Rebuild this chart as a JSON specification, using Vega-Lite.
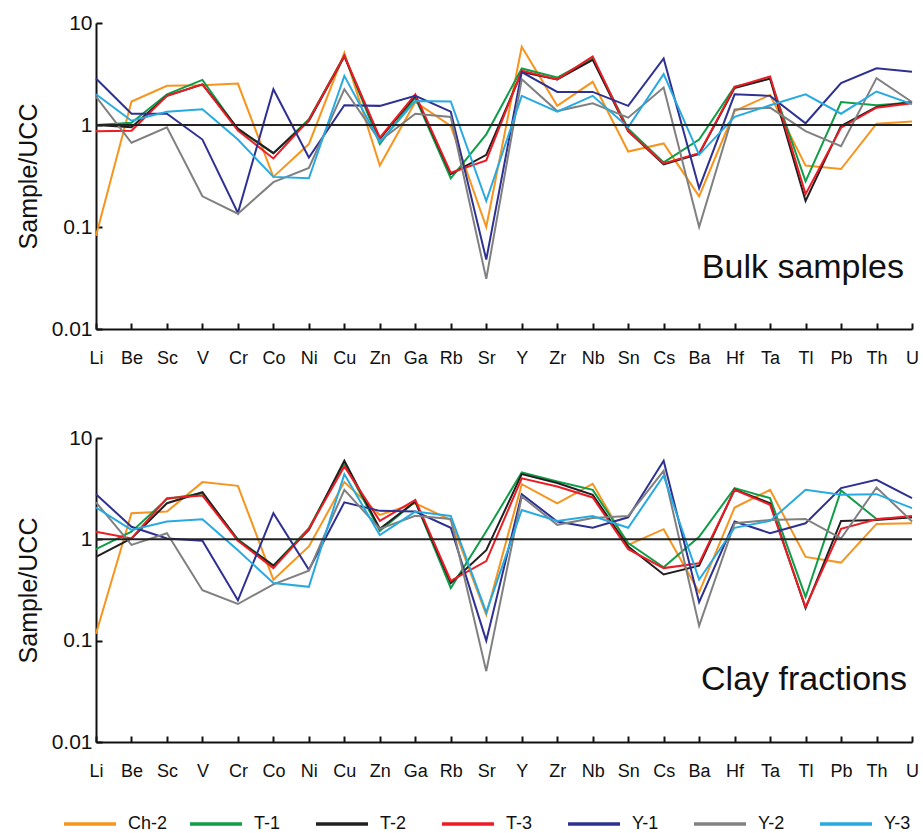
{
  "$schema": "https://vega.github.io/schema/vega-lite/v6.json",
  "padding": {"left": 16, "top": 12, "right": 5, "bottom": 5},
  "background": "white",
  "datasets": {
    "bulk": [
      {"element":"Li","sample":"Ch-2","value":0.082},{"element":"Li","sample":"T-1","value":1.0},{"element":"Li","sample":"T-2","value":1.0},{"element":"Li","sample":"T-3","value":0.87},{"element":"Li","sample":"Y-1","value":2.86},{"element":"Li","sample":"Y-2","value":1.9},{"element":"Li","sample":"Y-3","value":2.0},
      {"element":"Be","sample":"Ch-2","value":1.7},{"element":"Be","sample":"T-1","value":1.05},{"element":"Be","sample":"T-2","value":0.95},{"element":"Be","sample":"T-3","value":0.88},{"element":"Be","sample":"Y-1","value":1.29},{"element":"Be","sample":"Y-2","value":0.67},{"element":"Be","sample":"Y-3","value":1.1},
      {"element":"Sc","sample":"Ch-2","value":2.42},{"element":"Sc","sample":"T-1","value":2.0},{"element":"Sc","sample":"T-2","value":1.93},{"element":"Sc","sample":"T-3","value":1.93},{"element":"Sc","sample":"Y-1","value":1.29},{"element":"Sc","sample":"Y-2","value":0.95},{"element":"Sc","sample":"Y-3","value":1.35},
      {"element":"V","sample":"Ch-2","value":2.45},{"element":"V","sample":"T-1","value":2.77},{"element":"V","sample":"T-2","value":2.5},{"element":"V","sample":"T-3","value":2.5},{"element":"V","sample":"Y-1","value":0.72},{"element":"V","sample":"Y-2","value":0.2},{"element":"V","sample":"Y-3","value":1.43},
      {"element":"Cr","sample":"Ch-2","value":2.55},{"element":"Cr","sample":"T-1","value":0.9},{"element":"Cr","sample":"T-2","value":0.92},{"element":"Cr","sample":"T-3","value":0.88},{"element":"Cr","sample":"Y-1","value":0.137},{"element":"Cr","sample":"Y-2","value":0.135},{"element":"Cr","sample":"Y-3","value":0.72},
      {"element":"Co","sample":"Ch-2","value":0.31},{"element":"Co","sample":"T-1","value":0.53},{"element":"Co","sample":"T-2","value":0.53},{"element":"Co","sample":"T-3","value":0.47},{"element":"Co","sample":"Y-1","value":2.24},{"element":"Co","sample":"Y-2","value":0.275},{"element":"Co","sample":"Y-3","value":0.31},
      {"element":"Ni","sample":"Ch-2","value":0.65},{"element":"Ni","sample":"T-1","value":1.14},{"element":"Ni","sample":"T-2","value":1.1},{"element":"Ni","sample":"T-3","value":1.12},{"element":"Ni","sample":"Y-1","value":0.48},{"element":"Ni","sample":"Y-2","value":0.38},{"element":"Ni","sample":"Y-3","value":0.3},
      {"element":"Cu","sample":"Ch-2","value":5.1},{"element":"Cu","sample":"T-1","value":4.8},{"element":"Cu","sample":"T-2","value":4.7},{"element":"Cu","sample":"T-3","value":4.76},{"element":"Cu","sample":"Y-1","value":1.56},{"element":"Cu","sample":"Y-2","value":2.24},{"element":"Cu","sample":"Y-3","value":3.03},
      {"element":"Zn","sample":"Ch-2","value":0.4},{"element":"Zn","sample":"T-1","value":0.65},{"element":"Zn","sample":"T-2","value":0.73},{"element":"Zn","sample":"T-3","value":0.75},{"element":"Zn","sample":"Y-1","value":1.54},{"element":"Zn","sample":"Y-2","value":0.7},{"element":"Zn","sample":"Y-3","value":0.68},
      {"element":"Ga","sample":"Ch-2","value":1.68},{"element":"Ga","sample":"T-1","value":1.86},{"element":"Ga","sample":"T-2","value":1.93},{"element":"Ga","sample":"T-3","value":2.0},{"element":"Ga","sample":"Y-1","value":1.93},{"element":"Ga","sample":"Y-2","value":1.29},{"element":"Ga","sample":"Y-3","value":1.72},
      {"element":"Rb","sample":"Ch-2","value":0.98},{"element":"Rb","sample":"T-1","value":0.3},{"element":"Rb","sample":"T-2","value":0.33},{"element":"Rb","sample":"T-3","value":0.34},{"element":"Rb","sample":"Y-1","value":1.35},{"element":"Rb","sample":"Y-2","value":1.2},{"element":"Rb","sample":"Y-3","value":1.7},
      {"element":"Sr","sample":"Ch-2","value":0.1},{"element":"Sr","sample":"T-1","value":0.81},{"element":"Sr","sample":"T-2","value":0.51},{"element":"Sr","sample":"T-3","value":0.45},{"element":"Sr","sample":"Y-1","value":0.048},{"element":"Sr","sample":"Y-2","value":0.031},{"element":"Sr","sample":"Y-3","value":0.18},
      {"element":"Y","sample":"Ch-2","value":5.85},{"element":"Y","sample":"T-1","value":3.58},{"element":"Y","sample":"T-2","value":3.3},{"element":"Y","sample":"T-3","value":3.4},{"element":"Y","sample":"Y-1","value":3.3},{"element":"Y","sample":"Y-2","value":2.81},{"element":"Y","sample":"Y-3","value":1.93},
      {"element":"Zr","sample":"Ch-2","value":1.54},{"element":"Zr","sample":"T-1","value":2.92},{"element":"Zr","sample":"T-2","value":2.8},{"element":"Zr","sample":"T-3","value":2.8},{"element":"Zr","sample":"Y-1","value":2.11},{"element":"Zr","sample":"Y-2","value":1.37},{"element":"Zr","sample":"Y-3","value":1.35},
      {"element":"Nb","sample":"Ch-2","value":2.65},{"element":"Nb","sample":"T-1","value":4.5},{"element":"Nb","sample":"T-2","value":4.36},{"element":"Nb","sample":"T-3","value":4.7},{"element":"Nb","sample":"Y-1","value":2.11},{"element":"Nb","sample":"Y-2","value":1.63},{"element":"Nb","sample":"Y-3","value":1.93},
      {"element":"Sn","sample":"Ch-2","value":0.55},{"element":"Sn","sample":"T-1","value":0.92},{"element":"Sn","sample":"T-2","value":0.87},{"element":"Sn","sample":"T-3","value":0.87},{"element":"Sn","sample":"Y-1","value":1.54},{"element":"Sn","sample":"Y-2","value":1.18},{"element":"Sn","sample":"Y-3","value":0.95},
      {"element":"Cs","sample":"Ch-2","value":0.66},{"element":"Cs","sample":"T-1","value":0.43},{"element":"Cs","sample":"T-2","value":0.41},{"element":"Cs","sample":"T-3","value":0.42},{"element":"Cs","sample":"Y-1","value":4.5},{"element":"Cs","sample":"Y-2","value":2.33},{"element":"Cs","sample":"Y-3","value":3.15},
      {"element":"Ba","sample":"Ch-2","value":0.2},{"element":"Ba","sample":"T-1","value":0.72},{"element":"Ba","sample":"T-2","value":0.52},{"element":"Ba","sample":"T-3","value":0.53},{"element":"Ba","sample":"Y-1","value":0.24},{"element":"Ba","sample":"Y-2","value":0.1},{"element":"Ba","sample":"Y-3","value":0.51},
      {"element":"Hf","sample":"Ch-2","value":1.37},{"element":"Hf","sample":"T-1","value":2.38},{"element":"Hf","sample":"T-2","value":2.3},{"element":"Hf","sample":"T-3","value":2.35},{"element":"Hf","sample":"Y-1","value":2.0},{"element":"Hf","sample":"Y-2","value":1.42},{"element":"Hf","sample":"Y-3","value":1.2},
      {"element":"Ta","sample":"Ch-2","value":1.97},{"element":"Ta","sample":"T-1","value":2.85},{"element":"Ta","sample":"T-2","value":2.85},{"element":"Ta","sample":"T-3","value":2.99},{"element":"Ta","sample":"Y-1","value":1.93},{"element":"Ta","sample":"Y-2","value":1.48},{"element":"Ta","sample":"Y-3","value":1.56},
      {"element":"Tl","sample":"Ch-2","value":0.4},{"element":"Tl","sample":"T-1","value":0.28},{"element":"Tl","sample":"T-2","value":0.18},{"element":"Tl","sample":"T-3","value":0.21},{"element":"Tl","sample":"Y-1","value":1.04},{"element":"Tl","sample":"Y-2","value":0.87},{"element":"Tl","sample":"Y-3","value":2.0},
      {"element":"Pb","sample":"Ch-2","value":0.37},{"element":"Pb","sample":"T-1","value":1.68},{"element":"Pb","sample":"T-2","value":0.98},{"element":"Pb","sample":"T-3","value":0.94},{"element":"Pb","sample":"Y-1","value":2.57},{"element":"Pb","sample":"Y-2","value":0.62},{"element":"Pb","sample":"Y-3","value":1.29},
      {"element":"Th","sample":"Ch-2","value":1.03},{"element":"Th","sample":"T-1","value":1.56},{"element":"Th","sample":"T-2","value":1.5},{"element":"Th","sample":"T-3","value":1.48},{"element":"Th","sample":"Y-1","value":3.6},{"element":"Th","sample":"Y-2","value":2.88},{"element":"Th","sample":"Y-3","value":2.13},
      {"element":"U","sample":"Ch-2","value":1.08},{"element":"U","sample":"T-1","value":1.66},{"element":"U","sample":"T-2","value":1.68},{"element":"U","sample":"T-3","value":1.63},{"element":"U","sample":"Y-1","value":3.32},{"element":"U","sample":"Y-2","value":1.68},{"element":"U","sample":"Y-3","value":1.6}
    ],
    "clay": [
      {"element":"Li","sample":"Ch-2","value":0.117},{"element":"Li","sample":"T-1","value":0.8},{"element":"Li","sample":"T-2","value":0.67},{"element":"Li","sample":"T-3","value":1.19},{"element":"Li","sample":"Y-1","value":2.79},{"element":"Li","sample":"Y-2","value":2.32},{"element":"Li","sample":"Y-3","value":2.06},
      {"element":"Be","sample":"Ch-2","value":1.81},{"element":"Be","sample":"T-1","value":1.19},{"element":"Be","sample":"T-2","value":1.02},{"element":"Be","sample":"T-3","value":1.02},{"element":"Be","sample":"Y-1","value":1.33},{"element":"Be","sample":"Y-2","value":0.88},{"element":"Be","sample":"Y-3","value":1.24},
      {"element":"Sc","sample":"Ch-2","value":1.88},{"element":"Sc","sample":"T-1","value":2.5},{"element":"Sc","sample":"T-2","value":2.27},{"element":"Sc","sample":"T-3","value":2.55},{"element":"Sc","sample":"Y-1","value":1.02},{"element":"Sc","sample":"Y-2","value":1.15},{"element":"Sc","sample":"Y-3","value":1.5},
      {"element":"V","sample":"Ch-2","value":3.67},{"element":"V","sample":"T-1","value":2.85},{"element":"V","sample":"T-2","value":2.92},{"element":"V","sample":"T-3","value":2.7},{"element":"V","sample":"Y-1","value":0.97},{"element":"V","sample":"Y-2","value":0.315},{"element":"V","sample":"Y-3","value":1.58},
      {"element":"Cr","sample":"Ch-2","value":3.37},{"element":"Cr","sample":"T-1","value":1.0},{"element":"Cr","sample":"T-2","value":0.98},{"element":"Cr","sample":"T-3","value":0.97},{"element":"Cr","sample":"Y-1","value":0.25},{"element":"Cr","sample":"Y-2","value":0.23},{"element":"Cr","sample":"Y-3","value":0.78},
      {"element":"Co","sample":"Ch-2","value":0.4},{"element":"Co","sample":"T-1","value":0.55},{"element":"Co","sample":"T-2","value":0.55},{"element":"Co","sample":"T-3","value":0.52},{"element":"Co","sample":"Y-1","value":1.81},{"element":"Co","sample":"Y-2","value":0.36},{"element":"Co","sample":"Y-3","value":0.37},
      {"element":"Ni","sample":"Ch-2","value":0.85},{"element":"Ni","sample":"T-1","value":1.29},{"element":"Ni","sample":"T-2","value":1.24},{"element":"Ni","sample":"T-3","value":1.27},{"element":"Ni","sample":"Y-1","value":0.5},{"element":"Ni","sample":"Y-2","value":0.49},{"element":"Ni","sample":"Y-3","value":0.34},
      {"element":"Cu","sample":"Ch-2","value":3.67},{"element":"Cu","sample":"T-1","value":5.66},{"element":"Cu","sample":"T-2","value":5.97},{"element":"Cu","sample":"T-3","value":5.24},{"element":"Cu","sample":"Y-1","value":2.32},{"element":"Cu","sample":"Y-2","value":3.08},{"element":"Cu","sample":"Y-3","value":4.4},
      {"element":"Zn","sample":"Ch-2","value":1.74},{"element":"Zn","sample":"T-1","value":1.21},{"element":"Zn","sample":"T-2","value":1.27},{"element":"Zn","sample":"T-3","value":1.52},{"element":"Zn","sample":"Y-1","value":1.91},{"element":"Zn","sample":"Y-2","value":1.27},{"element":"Zn","sample":"Y-3","value":1.1},
      {"element":"Ga","sample":"Ch-2","value":2.27},{"element":"Ga","sample":"T-1","value":2.36},{"element":"Ga","sample":"T-2","value":2.36},{"element":"Ga","sample":"T-3","value":2.45},{"element":"Ga","sample":"Y-1","value":1.88},{"element":"Ga","sample":"Y-2","value":1.71},{"element":"Ga","sample":"Y-3","value":1.88},
      {"element":"Rb","sample":"Ch-2","value":1.55},{"element":"Rb","sample":"T-1","value":0.33},{"element":"Rb","sample":"T-2","value":0.37},{"element":"Rb","sample":"T-3","value":0.39},{"element":"Rb","sample":"Y-1","value":1.3},{"element":"Rb","sample":"Y-2","value":1.59},{"element":"Rb","sample":"Y-3","value":1.7},
      {"element":"Sr","sample":"Ch-2","value":0.18},{"element":"Sr","sample":"T-1","value":1.2},{"element":"Sr","sample":"T-2","value":0.78},{"element":"Sr","sample":"T-3","value":0.61},{"element":"Sr","sample":"Y-1","value":0.1},{"element":"Sr","sample":"Y-2","value":0.05},{"element":"Sr","sample":"Y-3","value":0.19},
      {"element":"Y","sample":"Ch-2","value":3.5},{"element":"Y","sample":"T-1","value":4.57},{"element":"Y","sample":"T-2","value":4.4},{"element":"Y","sample":"T-3","value":4.0},{"element":"Y","sample":"Y-1","value":2.79},{"element":"Y","sample":"Y-2","value":2.65},{"element":"Y","sample":"Y-3","value":1.95},
      {"element":"Zr","sample":"Ch-2","value":2.27},{"element":"Zr","sample":"T-1","value":3.72},{"element":"Zr","sample":"T-2","value":3.6},{"element":"Zr","sample":"T-3","value":3.32},{"element":"Zr","sample":"Y-1","value":1.5},{"element":"Zr","sample":"Y-2","value":1.39},{"element":"Zr","sample":"Y-3","value":1.52},
      {"element":"Nb","sample":"Ch-2","value":3.53},{"element":"Nb","sample":"T-1","value":3.08},{"element":"Nb","sample":"T-2","value":2.75},{"element":"Nb","sample":"T-3","value":2.59},{"element":"Nb","sample":"Y-1","value":1.3},{"element":"Nb","sample":"Y-2","value":1.62},{"element":"Nb","sample":"Y-3","value":1.7},
      {"element":"Sn","sample":"Ch-2","value":0.88},{"element":"Sn","sample":"T-1","value":0.92},{"element":"Sn","sample":"T-2","value":0.85},{"element":"Sn","sample":"T-3","value":0.8},{"element":"Sn","sample":"Y-1","value":1.65},{"element":"Sn","sample":"Y-2","value":1.7},{"element":"Sn","sample":"Y-3","value":1.3},
      {"element":"Cs","sample":"Ch-2","value":1.26},{"element":"Cs","sample":"T-1","value":0.53},{"element":"Cs","sample":"T-2","value":0.45},{"element":"Cs","sample":"T-3","value":0.52},{"element":"Cs","sample":"Y-1","value":5.97},{"element":"Cs","sample":"Y-2","value":4.75},{"element":"Cs","sample":"Y-3","value":4.24},
      {"element":"Ba","sample":"Ch-2","value":0.3},{"element":"Ba","sample":"T-1","value":1.06},{"element":"Ba","sample":"T-2","value":0.55},{"element":"Ba","sample":"T-3","value":0.58},{"element":"Ba","sample":"Y-1","value":0.24},{"element":"Ba","sample":"Y-2","value":0.14},{"element":"Ba","sample":"Y-3","value":0.4},
      {"element":"Hf","sample":"Ch-2","value":2.06},{"element":"Hf","sample":"T-1","value":3.2},{"element":"Hf","sample":"T-2","value":3.1},{"element":"Hf","sample":"T-3","value":3.08},{"element":"Hf","sample":"Y-1","value":1.5},{"element":"Hf","sample":"Y-2","value":1.44},{"element":"Hf","sample":"Y-3","value":1.3},
      {"element":"Ta","sample":"Ch-2","value":3.08},{"element":"Ta","sample":"T-1","value":2.55},{"element":"Ta","sample":"T-2","value":2.27},{"element":"Ta","sample":"T-3","value":2.19},{"element":"Ta","sample":"Y-1","value":1.15},{"element":"Ta","sample":"Y-2","value":1.55},{"element":"Ta","sample":"Y-3","value":1.52},
      {"element":"Tl","sample":"Ch-2","value":0.67},{"element":"Tl","sample":"T-1","value":0.27},{"element":"Tl","sample":"T-2","value":0.21},{"element":"Tl","sample":"T-3","value":0.215},{"element":"Tl","sample":"Y-1","value":1.44},{"element":"Tl","sample":"Y-2","value":1.59},{"element":"Tl","sample":"Y-3","value":3.08},
      {"element":"Pb","sample":"Ch-2","value":0.59},{"element":"Pb","sample":"T-1","value":3.03},{"element":"Pb","sample":"T-2","value":1.52},{"element":"Pb","sample":"T-3","value":1.27},{"element":"Pb","sample":"Y-1","value":3.2},{"element":"Pb","sample":"Y-2","value":1.02},{"element":"Pb","sample":"Y-3","value":2.75},
      {"element":"Th","sample":"Ch-2","value":1.42},{"element":"Th","sample":"T-1","value":1.59},{"element":"Th","sample":"T-2","value":1.55},{"element":"Th","sample":"T-3","value":1.58},{"element":"Th","sample":"Y-1","value":3.87},{"element":"Th","sample":"Y-2","value":3.25},{"element":"Th","sample":"Y-3","value":2.79},
      {"element":"U","sample":"Ch-2","value":1.44},{"element":"U","sample":"T-1","value":1.65},{"element":"U","sample":"T-2","value":1.65},{"element":"U","sample":"T-3","value":1.7},{"element":"U","sample":"Y-1","value":2.55},{"element":"U","sample":"Y-2","value":1.5},{"element":"U","sample":"Y-3","value":2.03}
    ],
    "labels": [{"label": "Bulk samples"}],
    "labels2": [{"label": "Clay fractions"}]
  },
  "config": {
    "view": {"stroke": null},
    "font": "Liberation Sans",
    "axis": {
      "domainColor": "#111", "domainWidth": 2, "tickColor": "#111", "tickWidth": 2, "tickSize": -6,
      "labelFont": "Liberation Sans", "labelColor": "#111",
      "grid": false, "titleFont": "Liberation Sans", "titleFontSize": 25, "titleFontWeight": "normal", "titleColor": "#111"
    },
    "legend": {
      "orient": "none", "legendX": -34, "legendY": 773, "direction": "horizontal", "columns": 7, "gridAlign": "all",
      "title": null, "symbolType": "stroke", "symbolStrokeWidth": 3.5,
      "symbolSize": 2700, "labelFont": "Liberation Sans", "labelFontSize": 18, "labelColor": "#111",
      "columnPadding": 15, "labelOffset": 10
    }
  },
  "spacing": 60,
  "vconcat": [
    {
      "width": 816, "height": 306,
      "layer": [
        {
          "data": {"name": "bulk"},
          "mark": {"type": "line", "strokeWidth": 2},
          "encoding": {
            "x": {"field": "element", "type": "nominal", "sort": ["Li","Be","Sc","V","Cr","Co","Ni","Cu","Zn","Ga","Rb","Sr","Y","Zr","Nb","Sn","Cs","Ba","Hf","Ta","Tl","Pb","Th","U"], "scale": {"type": "point", "padding": 0}, "axis": {"title": null, "labelAngle": 0, "labelPadding": 26, "labelFontSize": 18}},
            "y": {"field": "value", "type": "quantitative", "scale": {"type": "log", "domain": [0.01, 10]}, "axis": {"title": "Sample/UCC", "values": [0.01, 0.1, 1, 10], "format": "~g", "labelPadding": 10, "labelFontSize": 21, "titlePadding": 10}},
            "color": {"field": "sample", "type": "nominal", "scale": {"domain": ["Ch-2","T-1","T-2","T-3","Y-1","Y-2","Y-3"], "range": ["#f7941d","#0f9d48","#231f20","#ed1c24","#2e3192","#808080","#27aae1"]}}
          }
        },
        {
          "data": {"values": [{}]},
          "mark": {"type": "rule", "color": "#222", "strokeWidth": 2},
          "encoding": {"y": {"datum": 1}}
        },
        {
          "data": {"name": "labels"},
          "mark": {"type": "text", "align": "right", "baseline": "middle", "fontSize": 34, "dx": -8, "color": "#111"},
          "encoding": {"x": {"datum": "U"}, "y": {"datum": 0.04}, "text": {"field": "label"}}
        }
      ]
    },
    {
      "width": 816, "height": 304,
      "layer": [
        {
          "data": {"name": "clay"},
          "mark": {"type": "line", "strokeWidth": 2},
          "encoding": {
            "x": {"field": "element", "type": "nominal", "sort": ["Li","Be","Sc","V","Cr","Co","Ni","Cu","Zn","Ga","Rb","Sr","Y","Zr","Nb","Sn","Cs","Ba","Hf","Ta","Tl","Pb","Th","U"], "scale": {"type": "point", "padding": 0}, "axis": {"title": null, "labelAngle": 0, "labelPadding": 26, "labelFontSize": 18}},
            "y": {"field": "value", "type": "quantitative", "scale": {"type": "log", "domain": [0.01, 10]}, "axis": {"title": "Sample/UCC", "values": [0.01, 0.1, 1, 10], "format": "~g", "labelPadding": 10, "labelFontSize": 21, "titlePadding": 10}},
            "color": {"field": "sample", "type": "nominal", "scale": {"domain": ["Ch-2","T-1","T-2","T-3","Y-1","Y-2","Y-3"], "range": ["#f7941d","#0f9d48","#231f20","#ed1c24","#2e3192","#808080","#27aae1"]}}
          }
        },
        {
          "data": {"values": [{}]},
          "mark": {"type": "rule", "color": "#222", "strokeWidth": 2},
          "encoding": {"y": {"datum": 1}}
        },
        {
          "data": {"name": "labels2"},
          "mark": {"type": "text", "align": "right", "baseline": "middle", "fontSize": 34, "dx": -5, "color": "#111"},
          "encoding": {"x": {"datum": "U"}, "y": {"datum": 0.041}, "text": {"field": "label"}}
        }
      ]
    }
  ]
}
